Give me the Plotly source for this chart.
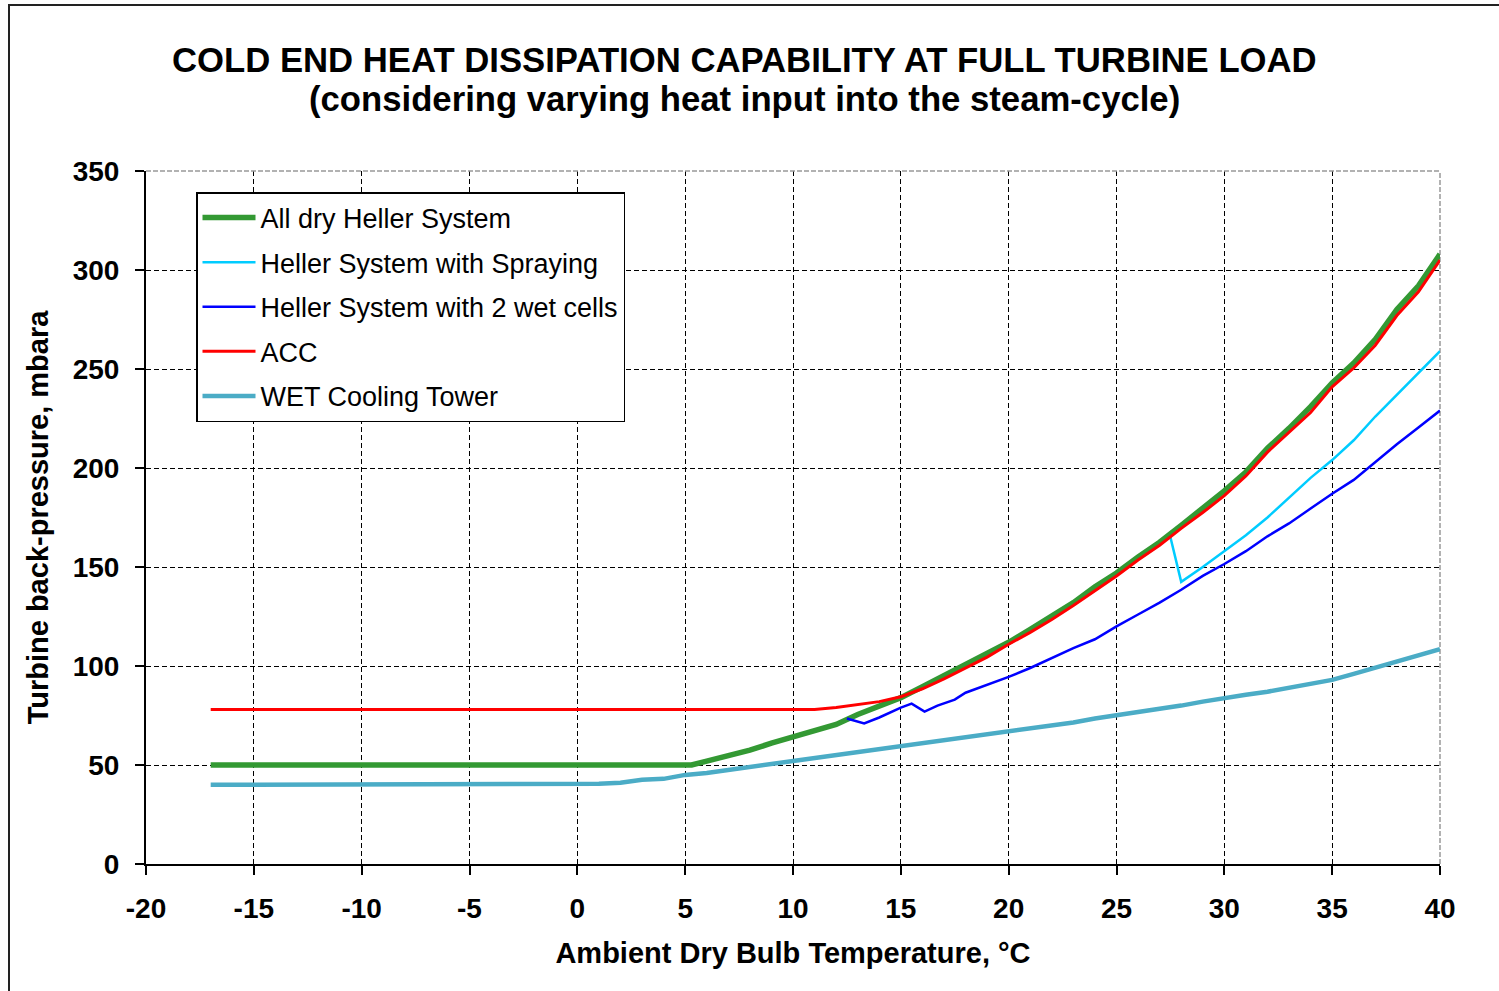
import plotly.graph_objects as go

# ---- data ----
dry_t = [-17, 5.3, 6, 7, 8, 9, 10, 11, 12, 13, 14, 15, 16, 17, 18, 19, 20, 21, 22, 23, 24,
         25, 26, 27, 28, 29, 30, 31, 32, 33, 34, 35, 36, 37, 38, 39, 40]
dry_p = [50, 50, 52, 54.5, 57.5, 61, 64, 67, 70.5, 75.5, 79.5, 84, 89.5, 95, 101, 106.5, 112,
         118.5, 125, 132, 140, 147, 155, 162.5, 171, 179.5, 188.5, 198, 210, 220, 231, 243,
         253, 265, 280, 292, 308]

spray_t = [27.5, 28, 29, 30, 31, 32, 33, 34, 35, 36, 37, 38, 39, 40]
spray_p = [165, 142.5, 150, 158, 166, 175, 185, 195, 204, 214, 226, 237, 248, 259]

wet2_t = [12.5, 13.3, 14, 15, 15.5, 16.1, 16.7, 17.5, 18, 19, 20, 21, 22, 23, 24, 25, 26, 27,
          28, 29, 30, 31, 32, 33, 34, 35, 36, 37, 38, 39, 40]
wet2_p = [73.5, 71, 74, 79, 81, 77, 80, 83, 86.5, 90.5, 94.5, 99, 104, 109, 113.5, 120, 126,
          132, 138.5, 145.5, 151.5, 158, 165.5, 172, 179.5, 187, 194, 203, 212, 220.5, 229]

acc_t = [-17, 11, 12, 13, 14, 15, 16, 17, 18, 19, 20, 21, 22, 23, 24, 25, 26, 27, 28, 29, 30,
         31, 32, 33, 34, 35, 36, 37, 38, 39, 40]
acc_p = [78, 78, 79, 80.5, 82, 84.5, 88.5, 93.5, 99, 104.5, 111, 117, 123.5, 130.5, 138, 145.5,
         153.5, 161, 169.5, 177.5, 186, 196, 208, 218, 228, 241, 250.5, 262, 277, 289, 305]

wct_t = [-17, 0.5, 1, 2, 3, 4, 5, 6, 7, 8, 9, 10, 11, 12, 13, 14, 15, 16, 17, 18, 19, 20, 21,
         22, 23, 24, 25, 26, 27, 28, 29, 30, 31, 32, 33, 34, 35, 36, 37, 38, 39, 40]
wct_p = [40, 40, 40.5, 41, 42.5, 43, 45, 46, 47.5, 49, 50.5, 51.5, 53, 54.5, 56, 57.5, 59.5,
         61, 62.5, 63.5, 65, 67, 68.5, 70, 71.5, 73.5, 75, 77, 78.5, 80, 82, 84, 85.5, 87, 89,
         90.5, 93, 96, 99, 102, 105, 108.5]

x_ticks = [-20, -15, -10, -5, 0, 5, 10, 15, 20, 25, 30, 35, 40]
y_ticks = [0, 50, 100, 150, 200, 250, 300, 350]

names = ["All dry Heller System", "Heller System with Spraying", "Heller System with 2 wet cells",
         "ACC", "WET Cooling Tower"]
title_lines = ["COLD END HEAT DISSIPATION CAPABILITY AT FULL TURBINE LOAD",
               "(considering varying heat input into the steam-cycle)"]

FONT = "Liberation Sans, Arial, sans-serif"

series = [
    (dry_t, dry_p, names[0], "#339933", 5.5),
    (spray_t, spray_p, names[1], "#00CCFF", 2.5),
    (wet2_t, wet2_p, names[2], "#0000FF", 2.5),
    (acc_t, acc_p, names[3], "#FF0000", 3),
    (wct_t, wct_p, names[4], "#4BACC6", 4.5),
]
draw_order = [4, 0, 1, 2, 3]   # wet tower underneath, ACC drawn over the dry curve

fig = go.Figure()
for i in draw_order:
    xs, ys, nm, col, w = series[i]
    fig.add_trace(go.Scatter(x=xs, y=ys, name=nm, mode="lines", legendrank=i + 1,
                             legendgroup="g%d" % i,
                             line=dict(color=col, width=w)))

L, R, T, B = 146, 59, 171, 127
W, H = 1499, 991
pw, ph = W - L - R, H - T - B

def px_x(px):
    return (px - L) / pw

def px_y(py):
    return (H - B - py) / ph

fig.update_layout(
    width=W, height=H,
    margin=dict(l=L, r=R, t=T, b=B, autoexpand=False),
    paper_bgcolor="white", plot_bgcolor="white",
    font=dict(family=FONT, color="black"),
    showlegend=True,
    legend=dict(
        x=px_x(196), y=px_y(192), xanchor="left", yanchor="top",
        bgcolor="white", bordercolor="black", borderwidth=1.5,
        font=dict(size=27, family=FONT, color="black"),
        traceorder="grouped", tracegroupgap=6.5,
        itemwidth=53,
    ),
    xaxis=dict(
        range=[-20, 40], tickvals=x_ticks, ticktext=[str(v) for v in x_ticks],
        showgrid=True, gridcolor="black", gridwidth=1, griddash="5px,3px",
        showline=True, linecolor="black", linewidth=2,
        ticks="outside", ticklen=9, tickwidth=1.5, tickcolor="black",
        tickfont=dict(size=28, family=FONT, weight="bold", color="black"),
        zeroline=False,
        title=dict(text="Ambient Dry Bulb Temperature, °C",
                   font=dict(size=29, family=FONT, weight="bold", color="black"),
                   standoff=20),
        ticklabelstandoff=9,
    ),
    yaxis=dict(
        range=[0, 350], tickvals=y_ticks, ticktext=[str(v) for v in y_ticks],
        showgrid=True, gridcolor="black", gridwidth=1, griddash="5px,3px",
        showline=True, linecolor="black", linewidth=2,
        ticks="outside", ticklen=9, tickwidth=1.5, tickcolor="black",
        tickfont=dict(size=28, family=FONT, weight="bold", color="black"),
        zeroline=False,
        title=dict(text="Turbine back-pressure, mbara",
                   font=dict(size=29, family=FONT, weight="bold", color="black"),
                   standoff=16),
        ticklabelstandoff=10,
    ),
    annotations=[
        dict(text=title_lines[0], xref="paper", yref="paper", x=px_x(744), y=px_y(60),
             xanchor="center", yanchor="middle", showarrow=False,
             font=dict(size=34.7, family=FONT, weight="bold", color="black")),
        dict(text=title_lines[1], xref="paper", yref="paper", x=px_x(744), y=px_y(99),
             xanchor="center", yanchor="middle", showarrow=False,
             font=dict(size=34.7, family=FONT, weight="bold", color="black")),
    ],
    shapes=[
        # grey top and right edges of the plot area
        dict(type="line", xref="paper", yref="paper", x0=0, x1=1, y0=1, y1=1,
             line=dict(color="#999999", width=1.5, dash="5px,2px"), layer="above"),
        dict(type="line", xref="paper", yref="paper", x0=1, x1=1, y0=0, y1=1,
             line=dict(color="#999999", width=1.5, dash="5px,2px"), layer="below"),
        # outer chart frame
        dict(type="rect", xref="paper", yref="paper",
             x0=px_x(9), x1=px_x(1520), y0=px_y(1010), y1=px_y(5),
             line=dict(color="#222222", width=2), fillcolor="rgba(0,0,0,0)", layer="above"),
    ],
)

fig.write_html("out.html")
